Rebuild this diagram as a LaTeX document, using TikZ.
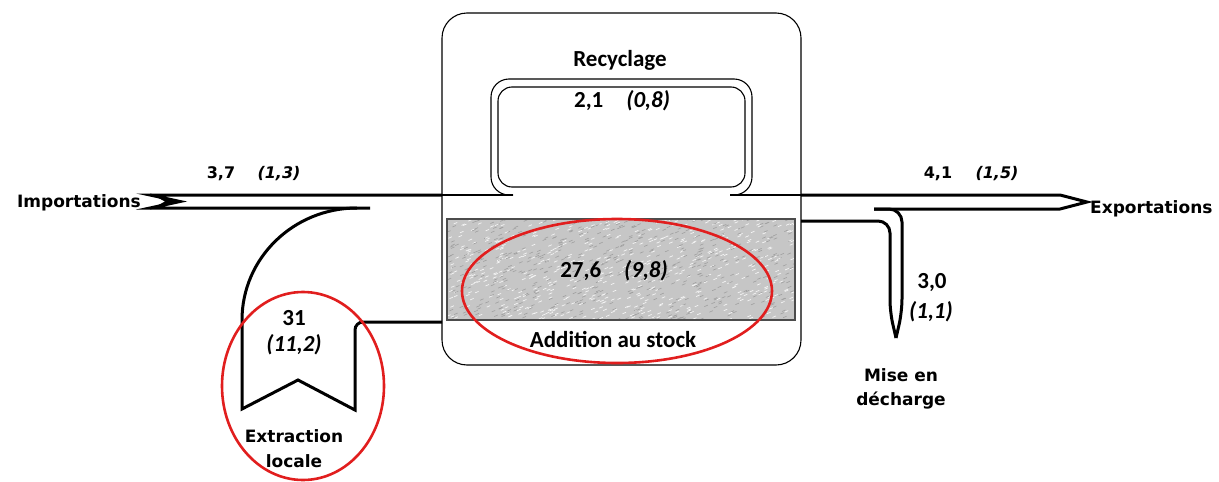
\documentclass[tikz,border=0pt]{standalone}
\usepackage{fontspec}
\setmainfont{Carlito}
\newfontfamily\verd{DejaVu Sans}
\definecolor{redring}{RGB}{225,30,30}
\definecolor{stockgray}{RGB}{198,198,198}
\begin{document}
\begin{tikzpicture}[x=1pt,y=-1pt,
  thickline/.style={line width=3pt,line join=miter},
  thinline/.style={line width=1.1pt},
  ring/.style={draw=redring,line width=2.6pt},
  cal/.style={font=\fontsize{23}{25}\selectfont\bfseries,inner sep=0pt},
  ver/.style={font=\verd\fontsize{17}{19}\selectfont\bfseries,inner sep=0pt},
  verit/.style={font=\verd\fontsize{16}{18}\selectfont\bfseries\itshape,inner sep=0pt},
  vernum/.style={font=\verd\fontsize{16}{18}\selectfont\bfseries,inner sep=0pt}]
\useasboundingbox (0,0) rectangle (1219,482);
% main box
\draw[thinline,rounded corners=25] (442,13) rectangle (801,365);
% stock rectangle
\fill[stockgray] (447,219) rectangle (795,320);
\pgfmathsetseed{7}
\begin{scope}
\clip (447,219) rectangle (795,320);
\foreach \i in {1,...,1100}{
  \pgfmathsetmacro{\xx}{447+rnd*348}
  \pgfmathsetmacro{\yy}{219+rnd*101}
  \pgfmathsetmacro{\cc}{rnd}
  \ifdim\cc pt<0.5pt
    \draw[white!92!gray,line width=0.7pt] (\xx,\yy) -- ++(3.5,-1.5);
  \else
    \draw[gray!75,line width=0.6pt] (\xx,\yy) -- ++(3.5,-1.5);
  \fi
}
\end{scope}
\draw[black!70,line width=1.2pt] (447,219) rectangle (795,320);
% horizontal thin lines inside box
\draw[thinline] (442,195) -- (513,195);
\draw[thinline] (730,195) -- (801,195);
% recycling loop
\draw[thinline,rounded corners=18] (513,195) -- (491,195) -- (491,79) -- (752,79) -- (752,195) -- (730,195);
\draw[thinline,rounded corners=14] (498,87) rectangle (745,187);
% imports
\draw[thickline] (442,195) -- (150,195) -- (180,201.5) -- (150,208) -- (370,208);
\fill (150,193.5) -- (183,201.5) -- (150,209.5) -- (165,201.5) -- cycle;
% extraction
\draw[thickline] (357,208) arc[start angle=-90,end angle=-180,x radius=115,y radius=112] -- (242,409) -- (298,380) -- (355,410) -- (355,330) to[out=90,in=180] (363,322) -- (442,322);
% exports
\draw[thickline] (801,195) -- (1060,195) -- (1087,202) -- (1060,209) -- (874,209);
% landfill
\draw[thickline,rounded corners=13] (874,209) -- (902,209) -- (902,312) -- (896,338);
\draw[thickline,rounded corners=12] (801,221) -- (890,221) -- (890,312) -- (896,338);
% red rings
\draw[ring] (617,291) ellipse[x radius=155,y radius=72];
\draw[ring] (303,386) ellipse[x radius=81,y radius=94];
% texts
\node[cal] (rec) at (620,60) {Recyclage};
\node[cal] (recv) at (622,101) {2,1\quad\textit{(0,8)}};
\node[cal] (stockv) at (614,271) {27,6\quad\textit{(9,8)}};
\node[cal] (stock) at (613,339) {Addition au stock};
\node[cal] (extv) at (294,318) {31};
\node[cal] (extv2) at (294,345) {\textit{(11,2)}};
\node[ver] (ext1) at (294,436) {Extraction};
\node[ver] (ext2) at (294,461) {locale};
\node[ver,anchor=east] (imp) at (141,203) {Importations};
\node[ver,anchor=west] (exp) at (1090,209) {Exportations};
\node[vernum] (impv) at (221,174) {3,7};
\node[verit] (impv2) at (279,174) {(1,3)};
\node[vernum] (expv) at (938,174) {4,1};
\node[verit] (expv2) at (997,174) {(1,5)};
\node[cal] (decv) at (932,283) {3,0};
\node[cal] (decv2) at (931,312) {\textit{(1,1)}};
\node[ver] (dec1) at (901,375) {Mise en};
\node[ver] (dec2) at (901,401) {décharge};
\end{tikzpicture}
\end{document}
